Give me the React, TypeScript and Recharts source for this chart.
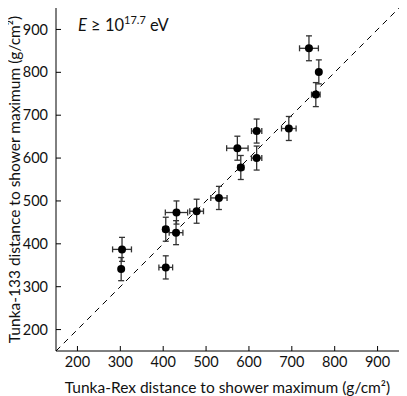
import React from 'react';
import {
  ScatterChart,
  Scatter,
  XAxis,
  YAxis,
  ErrorBar,
  ReferenceLine,
} from 'recharts';

// Tunka-Rex vs Tunka-133 Xmax distance, E >= 10^17.7 eV
const rexDist = [302, 304, 406, 406, 430, 431, 478, 530, 581, 573, 618, 618, 693, 756, 763, 740];
const tunkaDist = [341, 387, 345, 434, 426, 473, 476, 507, 578, 623, 600, 663, 669, 748, 801, 856];
const rexErr = [4, 22, 16, 6, 16, 26, 16, 19, 7, 25, 12, 12, 17, 10, 5, 22];
const tunkaErr = [27, 28, 27, 28, 28, 27, 28, 27, 28, 28, 28, 28, 28, 28, 28, 29];
const axisTicks = [200, 300, 400, 500, 600, 700, 800, 900];

const data = rexDist.map((x, i) => ({
  x,
  y: tunkaDist[i],
  ex: rexErr[i],
  ey: tunkaErr[i],
}));

const FONT = 'Lato, "DejaVu Sans", sans-serif';
const tickStyle = { fontSize: 14.5, fill: '#111', fontFamily: FONT };
const LABEL_SIZE = 15.5;

export default function App() {
  return (
    <div style={{ position: 'relative', margin: '-8px 0 0 -8px', width: 407, height: 396, fontFamily: FONT }}>
      <ScatterChart width={407} height={396} margin={{ top: 8, right: 8, bottom: 0, left: 0 }}>
        <XAxis
          type="number"
          dataKey="x"
          domain={[150, 950]}
          ticks={axisTicks}
          allowDataOverflow
          height={45}
          tickSize={-5}
          tickMargin={11}
          tick={tickStyle}
          stroke="#000"
          label={{ value: 'Tunka-Rex distance to shower maximum (g/cm²)', position: 'insideBottom', offset: 3, fontSize: LABEL_SIZE, fill: '#111', fontFamily: FONT }}
        />
        <YAxis
          type="number"
          dataKey="y"
          domain={[150, 950]}
          ticks={axisTicks}
          allowDataOverflow
          width={56}
          tickSize={-5}
          tickMargin={13}
          tick={tickStyle}
          stroke="#000"
          label={{
            content: ({ viewBox }: any) => (
              <text
                x={viewBox.x + 14}
                y={viewBox.y + viewBox.height / 2}
                transform={`rotate(-90 ${viewBox.x + 14} ${viewBox.y + viewBox.height / 2})`}
                textAnchor="middle"
                dominantBaseline="central"
                fontSize={LABEL_SIZE}
                fill="#111"
                fontFamily={FONT}
              >
                Tunka-133 distance to shower maximum (g/cm²)
              </text>
            ),
          }}
        />
        <XAxis xAxisId="top" orientation="top" type="number" domain={[150, 950]} ticks={axisTicks} height={0} tickSize={-5} tick={false} stroke="#000" />
        <YAxis yAxisId="right" orientation="right" type="number" domain={[150, 950]} ticks={axisTicks} width={0} tickSize={-5} tick={false} stroke="#000" />
        <ReferenceLine
          segment={[{ x: 150, y: 150 }, { x: 950, y: 950 }]}
          stroke="#000"
          strokeDasharray="6 5"
          ifOverflow="hidden"
        />
        <Scatter
          data={data}
          fill="#000"
          isAnimationActive={false}
          shape={(p: any) => <circle cx={p.cx} cy={p.cy} r={4} fill="#000" />}
        >
          <ErrorBar dataKey="ex" direction="x" width={3} stroke="#333" strokeWidth={1.3} />
          <ErrorBar dataKey="ey" direction="y" width={3} stroke="#333" strokeWidth={1.3} />
        </Scatter>
      </ScatterChart>
      <div style={{ position: 'absolute', left: 78, top: 13, fontSize: 16.5, color: '#111', whiteSpace: 'nowrap' }}>
        <i>E</i> ≥ 10<sup style={{ fontSize: 11 }}>17.7</sup> eV
      </div>
    </div>
  );
}
